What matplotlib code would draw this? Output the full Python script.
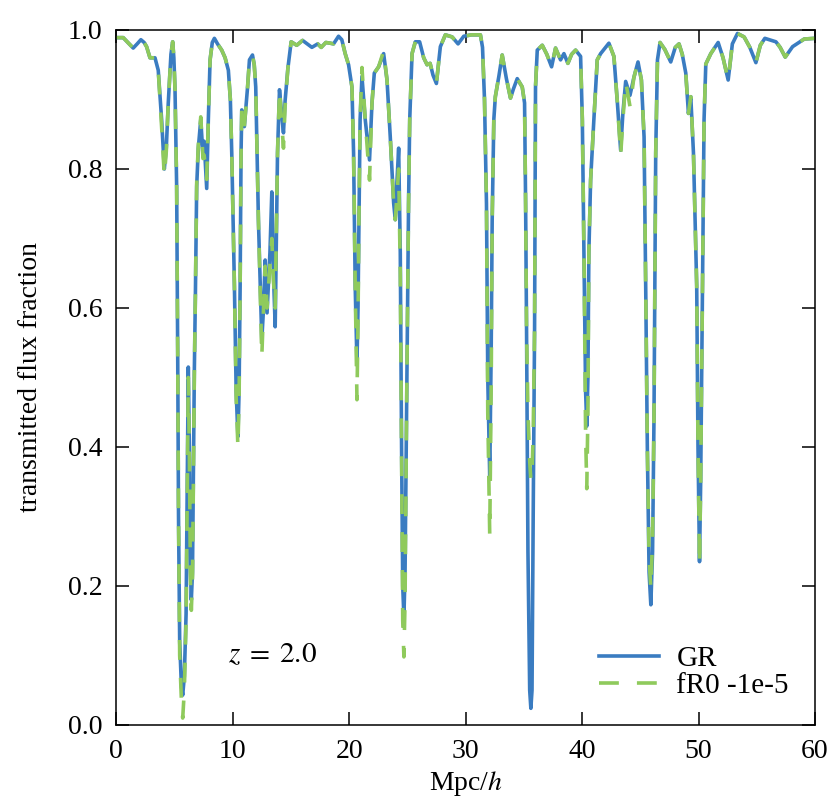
import numpy as np
import matplotlib
matplotlib.use("Agg")
import matplotlib.pyplot as plt

plt.rcParams['font.family'] = ['Liberation Serif', 'DejaVu Serif']
plt.rcParams['mathtext.fontset'] = 'stix'

# positions along the sightline (Mpc/h), shared by both spectra
pos = [0.0, 0.6, 1.0, 1.46, 1.8, 2.12, 2.4, 2.61, 2.9, 3.33,
       3.61, 3.9, 4.13, 4.3, 4.47, 4.7, 4.85, 4.95, 5.05, 5.19,
       5.28, 5.35, 5.45, 5.6, 5.71, 5.85, 6.0, 6.1, 6.19, 6.28,
       6.38, 6.45, 6.55, 6.71, 6.8, 6.91, 7.05, 7.26, 7.45, 7.55,
       7.77, 7.91, 8.06, 8.25, 8.43, 8.7, 9.06, 9.35, 9.63, 9.8,
       9.92, 10.15, 10.3, 10.45, 10.55, 10.64, 10.72, 10.78, 11.0, 11.28,
       11.44, 11.7, 11.85, 11.98, 12.21, 12.5, 12.65, 12.79, 12.95, 13.2,
       13.36, 13.5, 13.65, 13.85, 14.02, 14.2, 14.36, 14.5, 14.74, 15.02,
       15.5, 16.0, 16.8, 17.3, 17.6, 18.0, 18.37, 18.66, 19.09, 19.37,
       19.66, 19.95, 20.24, 20.38, 20.52, 20.67, 20.76, 20.84, 20.94, 21.1,
       21.38, 21.75, 21.96, 22.16, 22.53, 22.96, 23.25, 23.53, 23.82, 23.96,
       24.1, 24.25, 24.39, 24.5, 24.6, 24.7, 24.8, 24.95, 25.1, 25.2,
       25.4, 25.68, 26.05, 26.4, 26.69, 26.95, 27.2, 27.49, 27.83, 28.26,
       28.84, 29.35, 29.84, 30.5, 31.27, 31.45, 31.62, 31.79, 31.9, 32.07,
       32.2, 32.28, 32.42, 32.55, 32.85, 33.14, 33.5, 33.85, 34.1, 34.43,
       34.86, 35.06, 35.15, 35.23, 35.35, 35.5, 35.6, 35.7, 35.8, 35.92,
       36.0, 36.15, 36.58, 36.97, 37.38, 37.72, 38.15, 38.44, 38.78, 39.1,
       39.44, 39.87, 40.02, 40.16, 40.3, 40.4, 40.5, 40.58, 40.73, 41.01,
       41.3, 41.59, 42.3, 42.73, 43.03, 43.31, 43.5, 43.74, 44.11, 44.45,
       44.8, 45.09, 45.32, 45.46, 45.6, 45.75, 45.9, 46.05, 46.17, 46.32,
       46.47, 46.69, 47.1, 47.61, 48.0, 48.32, 48.6, 48.9, 49.13, 49.33,
       49.56, 49.84, 49.95, 50.08, 50.18, 50.34, 50.47, 50.62, 51.05, 51.68,
       52.1, 52.54, 52.9, 53.34, 53.91, 54.4, 54.92, 55.3, 55.69, 56.64,
       57.0, 57.44, 58.07, 59.07, 60.0]

flux_gr = [0.989, 0.989, 0.982, 0.974, 0.980, 0.986, 0.982, 0.976, 0.960, 0.960,
           0.942, 0.871, 0.800, 0.830, 0.895, 0.965, 0.983, 0.960, 0.914, 0.775,
           0.535, 0.300, 0.120, 0.055, 0.043, 0.070, 0.160, 0.350, 0.515, 0.400,
           0.220, 0.180, 0.220, 0.511, 0.620, 0.775, 0.830, 0.871, 0.820, 0.840,
           0.772, 0.871, 0.957, 0.982, 0.988, 0.980, 0.971, 0.960, 0.942, 0.900,
           0.823, 0.631, 0.480, 0.415, 0.480, 0.631, 0.823, 0.885, 0.861, 0.918,
           0.957, 0.964, 0.950, 0.918, 0.727, 0.554, 0.600, 0.669, 0.593, 0.680,
           0.767, 0.650, 0.573, 0.823, 0.914, 0.880, 0.852, 0.898, 0.945, 0.983,
           0.978, 0.985, 0.975, 0.980, 0.975, 0.982, 0.981, 0.980, 0.991, 0.986,
           0.966, 0.950, 0.918, 0.823, 0.631, 0.520, 0.600, 0.727, 0.871, 0.933,
           0.871, 0.813, 0.895, 0.938, 0.947, 0.966, 0.928, 0.846, 0.751, 0.727,
           0.780, 0.830, 0.679, 0.400, 0.200, 0.155, 0.220, 0.486, 0.750, 0.871,
           0.966, 0.983, 0.983, 0.960, 0.950, 0.952, 0.935, 0.923, 0.976, 0.993,
           0.990, 0.980, 0.991, 0.993, 0.993, 0.975, 0.900, 0.750, 0.500, 0.357,
           0.550, 0.727, 0.871, 0.904, 0.933, 0.964, 0.930, 0.902, 0.915, 0.930,
           0.918, 0.895, 0.750, 0.570, 0.250, 0.050, 0.024, 0.050, 0.300, 0.570,
           0.918, 0.971, 0.978, 0.965, 0.947, 0.974, 0.957, 0.966, 0.952, 0.965,
           0.971, 0.962, 0.871, 0.679, 0.480, 0.430, 0.500, 0.679, 0.784, 0.871,
           0.957, 0.966, 0.981, 0.962, 0.895, 0.827, 0.880, 0.926, 0.906, 0.932,
           0.954, 0.928, 0.846, 0.631, 0.400, 0.220, 0.173, 0.250, 0.439, 0.823,
           0.957, 0.982, 0.972, 0.954, 0.975, 0.980, 0.965, 0.938, 0.880, 0.904,
           0.823, 0.631, 0.400, 0.235, 0.350, 0.631, 0.871, 0.951, 0.966, 0.982,
           0.960, 0.928, 0.980, 0.995, 0.990, 0.975, 0.953, 0.978, 0.988, 0.983,
           0.975, 0.961, 0.976, 0.987, 0.988]

flux_fr = [0.989, 0.989, 0.982, 0.974, 0.980, 0.986, 0.982, 0.976, 0.960, 0.960,
           0.942, 0.860, 0.790, 0.825, 0.895, 0.965, 0.983, 0.960, 0.914, 0.775,
           0.535, 0.300, 0.100, 0.035, 0.010, 0.050, 0.150, 0.340, 0.500, 0.390,
           0.200, 0.165, 0.210, 0.505, 0.620, 0.780, 0.835, 0.875, 0.815, 0.820,
           0.785, 0.871, 0.957, 0.982, 0.988, 0.980, 0.971, 0.960, 0.942, 0.900,
           0.823, 0.631, 0.470, 0.400, 0.470, 0.631, 0.823, 0.885, 0.861, 0.918,
           0.957, 0.964, 0.950, 0.918, 0.727, 0.530, 0.600, 0.660, 0.600, 0.660,
           0.700, 0.640, 0.600, 0.823, 0.914, 0.870, 0.830, 0.890, 0.945, 0.983,
           0.978, 0.985, 0.975, 0.980, 0.975, 0.982, 0.981, 0.980, 0.991, 0.986,
           0.966, 0.950, 0.918, 0.823, 0.631, 0.468, 0.580, 0.727, 0.871, 0.946,
           0.871, 0.784, 0.895, 0.938, 0.947, 0.970, 0.928, 0.846, 0.751, 0.727,
           0.760, 0.800, 0.650, 0.380, 0.150, 0.098, 0.180, 0.486, 0.750, 0.871,
           0.966, 0.983, 0.983, 0.960, 0.950, 0.952, 0.935, 0.923, 0.976, 0.993,
           0.990, 0.980, 0.991, 0.993, 0.993, 0.975, 0.900, 0.750, 0.450, 0.273,
           0.500, 0.727, 0.871, 0.904, 0.933, 0.964, 0.930, 0.902, 0.915, 0.930,
           0.918, 0.895, 0.750, 0.570, 0.450, 0.380, 0.352, 0.360, 0.420, 0.570,
           0.918, 0.971, 0.978, 0.965, 0.947, 0.974, 0.957, 0.966, 0.952, 0.965,
           0.971, 0.962, 0.871, 0.679, 0.420, 0.340, 0.450, 0.679, 0.784, 0.871,
           0.957, 0.966, 0.981, 0.962, 0.895, 0.820, 0.870, 0.926, 0.890, 0.932,
           0.954, 0.928, 0.846, 0.631, 0.400, 0.240, 0.196, 0.270, 0.439, 0.823,
           0.957, 0.982, 0.972, 0.954, 0.975, 0.980, 0.965, 0.938, 0.880, 0.904,
           0.823, 0.631, 0.400, 0.230, 0.350, 0.631, 0.871, 0.951, 0.966, 0.982,
           0.960, 0.928, 0.980, 0.995, 0.990, 0.975, 0.953, 0.978, 0.988, 0.983,
           0.975, 0.961, 0.976, 0.987, 0.988]

fig = plt.figure(figsize=(8.3, 8.06), dpi=100)
ax = fig.add_axes([0.140, 0.1005, 0.842, 0.8623])

ax.plot(pos, flux_gr, color='#3a7cc1', lw=2.6, label='GR')
ax.plot(pos, flux_fr, color='#8fca5c', lw=2.6, ls=(0, (5.5, 5.0)), label='fR0 -1e-5')

ax.set_xlim(0, 60)
ax.set_ylim(0, 1.0)
ax.set_xticks([0, 10, 20, 30, 40, 50, 60])
ax.set_yticks([0.0, 0.2, 0.4, 0.6, 0.8, 1.0])
ax.set_yticklabels(['0.0', '0.2', '0.4', '0.6', '0.8', '1.0'])
ax.tick_params(direction='in', length=9.5, width=1.1, labelsize=20,
               top=True, right=True, pad=10)
for s in ax.spines.values():
    s.set_linewidth(1.1)

ax.set_xlabel('Mpc/$h$', fontsize=20, labelpad=4)
ax.set_ylabel('transmitted flux fraction', fontsize=20, labelpad=18)

ax.text(9.6, 0.10, r'$z\;=\;2.0$', fontsize=21, va='center')

ax.legend(loc='lower right', frameon=False, fontsize=21, handlelength=2.05,
          handletextpad=0.6, labelspacing=0.0)

fig.savefig('out.png', dpi=100)
